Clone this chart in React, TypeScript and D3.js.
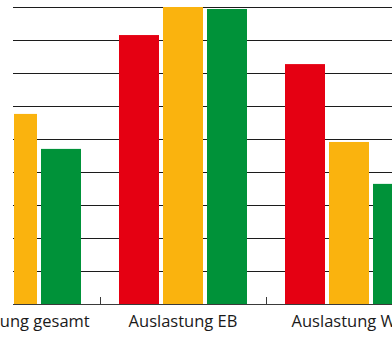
import React from "react";
import * as d3 from "d3";

// Categories along the x axis and the three series per category
const categories = ["Auslastung gesamt", "Auslastung EB", "Auslastung WB"];
const seriesNames = ["rot", "gelb", "grün"];
const seriesColors = ["#E50012", "#FAB30E", "#009239"];

// Values per series (one per category)
const redValues = [66, 81.5, 72.7];
const yellowValues = [57.6, 90, 49.1];
const greenValues = [47.0, 89.4, 36.4];

const yTicks = [0, 10, 20, 30, 40, 50, 60, 70, 80, 90];

const W = 392;
const H = 338;

export default function App() {
  const values = [redValues, yellowValues, greenValues];

  const x = d3.scaleBand<string>().domain(categories).range([-66, 432]).padding(0);
  const xInner = d3
    .scaleBand<string>()
    .domain(seriesNames)
    .range([-64, 64])
    .paddingInner(4 / 44)
    .paddingOuter(0);
  const y = d3.scaleLinear().domain([0, 90]).range([304, 7]);

  const plotLeft = 13;
  const boundaries = categories.slice(1).map((c) => x(c)!);

  return (
    <svg
      width={W}
      height={H}
      style={{ position: "absolute", left: 0, top: 0, background: "#fff" }}
      fontFamily="'Open Sans', 'Noto Sans', sans-serif"
    >
      <defs>
        <clipPath id="plotClip">
          <rect x={plotLeft + 1} y={0} width={W - plotLeft - 1} height={H} />
        </clipPath>
      </defs>
      {/* horizontal grid lines */}
      {yTicks.slice(1).map((t) => (
        <line
          key={t}
          x1={plotLeft}
          x2={W}
          y1={y(t) + 0.5}
          y2={y(t) + 0.5}
          stroke="#1c1c1c"
          strokeWidth={1.2}
        />
      ))}
      {/* bars */}
      <g clipPath="url(#plotClip)">
        {categories.map((c, ci) =>
          seriesNames.map((s, si) => {
            const cx = x(c)! + x.bandwidth() / 2;
            const v = values[si][ci];
            return (
              <rect
                key={c + s}
                x={cx + xInner(s)!}
                y={y(v)}
                width={xInner.bandwidth()}
                height={y(0) - y(v)}
                fill={seriesColors[si]}
              />
            );
          })
        )}
      </g>
      {/* baseline and category separators */}
      <line x1={plotLeft} x2={W} y1={y(0) + 0.5} y2={y(0) + 0.5} stroke="#3a3a3a" strokeWidth={1.2} />
      {boundaries.map((b, i) => (
        <line key={i} x1={b + 0.5} x2={b + 0.5} y1={y(0)} y2={y(0) - 7} stroke="#3a3a3a" strokeWidth={1} />
      ))}
      {/* category labels */}
      {categories.map((c) => (
        <text
          key={c}
          x={x(c)! + x.bandwidth() / 2}
          y={327}
          textAnchor="middle"
          fontSize={16.5}
          fill="#1a1a1a"
        >
          {c}
        </text>
      ))}
    </svg>
  );
}
